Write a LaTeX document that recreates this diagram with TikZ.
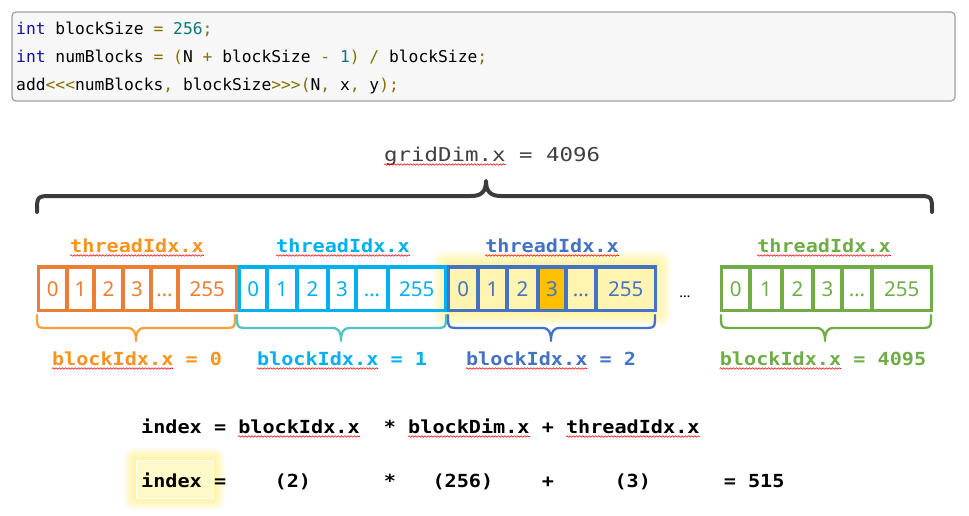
\documentclass[tikz,border=0pt]{standalone}
\usepackage{fontspec}
\usetikzlibrary{decorations.pathmorphing,calc}
\newfontfamily\codefont{DejaVu Sans Mono}
\newfontfamily\lblfont[FakeStretch=1.12]{DejaVu Sans Mono}
\newfontfamily\gridfont[FakeStretch=1.18]{DejaVu Sans Mono}
\newfontfamily\numfont{Noto Sans}
\definecolor{kw}{HTML}{1010A8}
\definecolor{num}{HTML}{0B7A75}
\definecolor{op}{HTML}{827100}
\definecolor{codebg}{HTML}{F7F7F7}
\definecolor{codeborder}{HTML}{A0A0A0}
\definecolor{corange}{HTML}{ED7D31}
\definecolor{lorange}{HTML}{F7941D}
\definecolor{borange}{HTML}{F9A13A}
\definecolor{ccyan}{HTML}{00B0F0}
\definecolor{bcyan}{HTML}{55C3C6}
\definecolor{cblue}{HTML}{4472C4}
\definecolor{cgreen}{HTML}{70AD47}
\definecolor{cellyel}{HTML}{FFF5B0}
\definecolor{cellhot}{HTML}{FFC000}
\definecolor{glow}{HTML}{FFF06A}
\definecolor{dgray}{HTML}{3B3B3B}
\definecolor{tgray}{HTML}{404040}
\newcommand\mybrace[4]{%
  \draw[bracestyle=#1] (#2,315) .. controls (#2,328) .. ({#2+12},328) -- ({#4-9},328)
    .. controls ({#4-2},328) and (#4,332) .. (#4,341)
    .. controls (#4,332) and ({#4+2},328) .. ({#4+9},328) -- ({#3-12},328)
    .. controls (#3,328) .. (#3,315);}
\begin{document}
\begin{tikzpicture}[x=1pt,y=-1pt,
  cell/.style={draw=#1, text=#1, line width=3.5pt, inner sep=0pt,
    minimum height=43.5pt, text height=15.5pt, text depth=0pt,
    font=\numfont\fontsize{20.5}{20.5}\selectfont},
  bracestyle/.style={draw=#1, line width=2.3pt, line cap=round, line join=round},
  lbl/.style={text=#1, inner sep=0pt, anchor=base,
    font=\lblfont\bfseries\fontsize{18}{18}\selectfont},
  ftok/.style={inner sep=0pt, anchor=base west,
    font=\lblfont\bfseries\fontsize{18}{18}\selectfont},
  codeline/.style={inner sep=0pt, anchor=base west,
    font=\codefont\fontsize{16.3}{16.3}\selectfont},
  squig/.style={draw=red, line width=0.55pt,
    decorate, decoration={snake, amplitude=0.75pt, segment length=3.2pt}}
]
\useasboundingbox (0,0) rectangle (969,516);
\fill[white] (0,0) rectangle (969,516);

% code box
\draw[rounded corners=4pt, fill=codebg, draw=codeborder, line width=1.2pt] (12,12) rectangle (955,101);
\node[codeline] (code1) at (16,35) {{\color{kw}int} blockSize {\color{op}=} {\color{num}256}{\color{op};}};
\node[codeline] (code2) at (16,63) {{\color{kw}int} numBlocks {\color{op}= (}N {\color{op}+} blockSize {\color{op}-} {\color{num}1}{\color{op}) /} blockSize{\color{op};}};
\node[codeline] (code3) at (16,91) {add{\color{op}<{}<{}<}numBlocks{\color{op},} blockSize{\color{op}>{}>{}>(}N{\color{op},} x{\color{op},} y{\color{op});}};

% grid dim label and top brace
\node[inner sep=0pt, anchor=base west, text=tgray,
  font=\gridfont\fontsize{19}{19}\selectfont] (grid) at (384,161) {gridDim.x = 4096};
\draw[squig] ($(grid.base west)+(0,3.5)$) -- ($(grid.base west)+(121.5,3.5)$);
\draw[draw=dgray, line width=4pt, line cap=round, line join=round]
  (37,212) .. controls (37,196) .. (53,196) -- (471,196)
  .. controls (481,196) and (486,192) .. (486,181)
  .. controls (486,192) and (491,196) .. (501,196) -- (916,196)
  .. controls (932,196) .. (932,212);

% glow behind blue block
\foreach \k in {1,...,11}
  \fill[glow, opacity=0.07, rounded corners=\k pt]
    ({447-\k*1.3},{265-\k*1.3}) rectangle ({657+\k*1.3},{312+\k*1.3});

% orange block
\foreach \a/\b/\t [count=\i] in {38.5/67/0,67/94/1,94/123/2,123/151/3,151/178/…,178/236.5/255}
  \node[cell=corange, minimum width={\b-\a}] (o\i) at ({(\a+\b)/2},288.5) {\t};
% cyan block
\foreach \a/\b/\t [count=\i] in {239.5/267/0,267/297/1,297/328/2,328/356/3,356/388/…,388/445.5/255}
  \node[cell=ccyan, minimum width={\b-\a}] (c\i) at ({(\a+\b)/2},288.5) {\t};
% blue block
\foreach \a/\b/\t/\f [count=\i] in {448.5/478/0/cellyel,478/507/1/cellyel,507/538/2/cellyel,538/566/3/cellhot,566/596/…/cellyel,596/655.5/255/cellyel}
  \node[cell=cblue, fill=\f, minimum width={\b-\a}] (b\i) at ({(\a+\b)/2},288.5) {\t};
% green block
\foreach \a/\b/\t [count=\i] in {721.5/750/0,750/782/1,782/813/2,813/842/3,842/872/…,872/931.5/255}
  \node[cell=cgreen, minimum width={\b-\a}] (gr\i) at ({(\a+\b)/2},288.5) {\t};

\node[inner sep=0pt, anchor=base, font=\numfont\fontsize{14}{14}\selectfont] (gap) at (685,297) {…};

% threadIdx labels
\node[lbl=lorange] (to) at (137,252) {threadIdx.x};
\node[lbl=ccyan] (tc) at (343,252) {threadIdx.x};
\node[lbl=cblue] (tb) at (552,252) {threadIdx.x};
\node[lbl=cgreen] (tg) at (824,252) {threadIdx.x};
\foreach \n in {to,tc,tb,tg}
  \draw[squig] ($(\n.base west)+(0,3.5)$) -- ($(\n.base east)+(0,3.5)$);

% braces
\mybrace{borange}{37}{235}{136}
\mybrace{bcyan}{237}{446}{341}
\mybrace{cblue}{448}{655}{551}
\mybrace{cgreen}{721}{931}{825}

% blockIdx labels
\node[lbl=lorange] (bo) at (137,365) {blockIdx.x = 0};
\node[lbl=ccyan] (bc) at (342,365) {blockIdx.x = 1};
\node[lbl=cblue] (bb) at (551,365) {blockIdx.x = 2};
\node[lbl=cgreen] (bg) at (823,365) {blockIdx.x = 4095};
\foreach \n in {bo,bc,bb,bg}
  \draw[squig] ($(\n.base west)+(0,3.5)$) -- ($(\n.base west)+(121.4,3.5)$);

% formula row 1
\node[ftok] (e1) at ({141+0*12.138},433) {index};
\node[ftok] (e2) at ({141+6*12.138},433) {=};
\node[ftok] (e3) at ({141+8*12.138},433) {blockIdx.x};
\node[ftok] (e4) at ({141+20*12.138},433) {*};
\node[ftok] (e5) at ({141+22*12.138},433) {blockDim.x};
\node[ftok] (e6) at ({141+33*12.138},433) {+};
\node[ftok] (e7) at ({141+35*12.138},433) {threadIdx.x};
\foreach \n in {e3,e5,e7}
  \draw[squig] ($(\n.base west)+(0,3.5)$) -- ($(\n.base east)+(0,3.5)$);

% highlight around index (row 2)
\foreach \k in {1,...,10}
  \fill[glow, opacity=0.08, rounded corners=\k pt]
    ({136-\k*1.2},{460-\k*1.2}) rectangle ({213+\k*1.2},{498+\k*1.2});
\draw[draw=white, line width=1pt, fill=cellyel!70!white] (136,460) rectangle (213,498);

% formula row 2
\node[ftok] (r1) at ({141+0*12.138},487) {index};
\node[ftok] (r2) at ({141+6*12.138},487) {=};
\node[ftok] (r3) at ({141+11*12.138},487) {(2)};
\node[ftok] (r4) at ({141+20*12.138},487) {*};
\node[ftok] (r5) at ({141+24*12.138},487) {(256)};
\node[ftok] (r6) at ({141+33*12.138},487) {+};
\node[ftok] (r7) at ({141+39*12.138},487) {(3)};
\node[ftok] (r8) at ({141+48*12.138},487) {= 515};
\end{tikzpicture}
\end{document}
